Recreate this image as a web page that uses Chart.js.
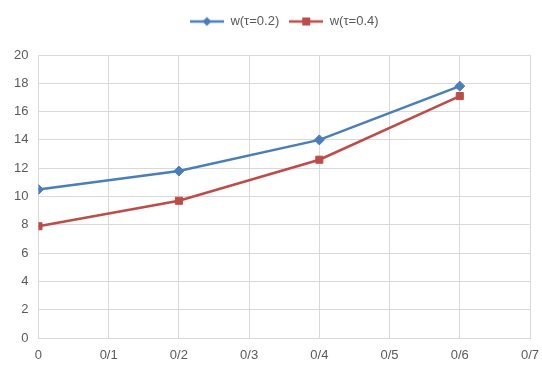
<!DOCTYPE html>
<html>
<head>
<meta charset="utf-8">
<script src="https://cdn.jsdelivr.net/npm/chart.js@4/dist/chart.umd.min.js"></script>
<style>
html,body{margin:0;padding:0;background:#fff;}
#wrap{width:542px;height:367px;position:relative;}
</style>
</head>
<body>
<div id="wrap"><canvas id="c"></canvas></div>
<script>
const xValues = [0, 0.2, 0.4, 0.6];
const seriesA = [10.5, 11.8, 14.0, 17.8];
const seriesB = [7.9, 9.7, 12.6, 17.1];
const seriesNames = ['w(τ=0.2)', 'w(τ=0.4)'];
const xTickLabels = ['0', '0/1', '0/2', '0/3', '0/4', '0/5', '0/6', '0/7'];

const BLUE = '#4a7ebb';
const RED = '#be4b48';
const FONT = "'Liberation Sans', Arial, sans-serif";

function legendIcon(color, style) {
  const c = document.createElement('canvas');
  c.width = 34; c.height = 12;
  const g = c.getContext('2d');
  g.strokeStyle = color; g.lineWidth = 2.5;
  g.beginPath(); g.moveTo(0, 6); g.lineTo(34, 6); g.stroke();
  g.fillStyle = color;
  if (style === 'diamond') {
    g.beginPath(); g.moveTo(17, 1.5); g.lineTo(21.5, 6); g.lineTo(17, 10.5); g.lineTo(12.5, 6); g.closePath(); g.fill();
  } else {
    g.fillRect(13, 2, 8, 8);
  }
  return c;
}
const icons = [legendIcon(BLUE, 'diamond'), legendIcon(RED, 'square')];

const toPts = arr => arr.map((v, i) => ({x: xValues[i], y: v}));

const legendMargin = {
  id: 'legendMargin',
  beforeInit(chart) {
    const fit = chart.legend.fit;
    chart.legend.fit = function () { fit.bind(chart.legend)(); this.height += 17; };
  },
  afterLayout(chart) {
    const lg = chart.legend;
    const shift = (chart.chartArea.left + chart.chartArea.right) / 2 - (lg.left + lg.right) / 2;
    lg.left += shift; lg.right += shift;
  }
};

new Chart(document.getElementById('c'), {
  type: 'line',
  plugins: [legendMargin],
  data: {
    datasets: [
      {label: seriesNames[0], data: toPts(seriesA), borderColor: BLUE, backgroundColor: BLUE,
       borderWidth: 2.5, pointStyle: 'rectRot', pointRadius: 5, pointBorderWidth: 1, pointHoverRadius: 5, tension: 0},
      {label: seriesNames[1], data: toPts(seriesB), borderColor: RED, backgroundColor: RED,
       borderWidth: 2.5, pointStyle: 'rect', pointRadius: 5, pointBorderWidth: 1, pointHoverRadius: 5, tension: 0}
    ]
  },
  options: {
    responsive: true,
    maintainAspectRatio: false,
    animation: false,
    layout: {padding: {left: 4, right: 12, top: 5, bottom: 0}},
    plugins: {
      tooltip: {enabled: false},
      legend: {
        position: 'top',
        labels: {
          usePointStyle: true,
          pointStyleWidth: 34,
          boxHeight: 12,
          padding: 10,
          color: '#595959',
          font: {family: FONT, size: 13},
          generateLabels: chart => chart.data.datasets.map((ds, i) => ({
            text: ds.label, pointStyle: icons[i], fillStyle: ds.borderColor,
            strokeStyle: ds.borderColor, lineWidth: 0, datasetIndex: i, hidden: false,
            fontColor: '#595959'
          }))
        }
      }
    },
    scales: {
      x: {
        type: 'linear', min: 0, max: 0.7,
        afterFit: (scale) => { scale.height = 29; scale.paddingRight = 0; },
        ticks: {
          stepSize: 0.1, color: '#595959', font: {family: FONT, size: 13}, padding: 10,
          callback: (v) => xTickLabels[Math.round(v * 10)]
        },
        grid: {color: '#d9d9d9', lineWidth: 1, drawTicks: false},
        border: {color: '#d9d9d9'}
      },
      y: {
        min: 0, max: 20,
        ticks: {stepSize: 2, color: '#595959', font: {family: FONT, size: 13}, padding: 10},
        grid: {color: '#d9d9d9', lineWidth: 1, drawTicks: false},
        border: {color: '#d9d9d9'}
      }
    }
  }
});
</script>
</body>
</html>
